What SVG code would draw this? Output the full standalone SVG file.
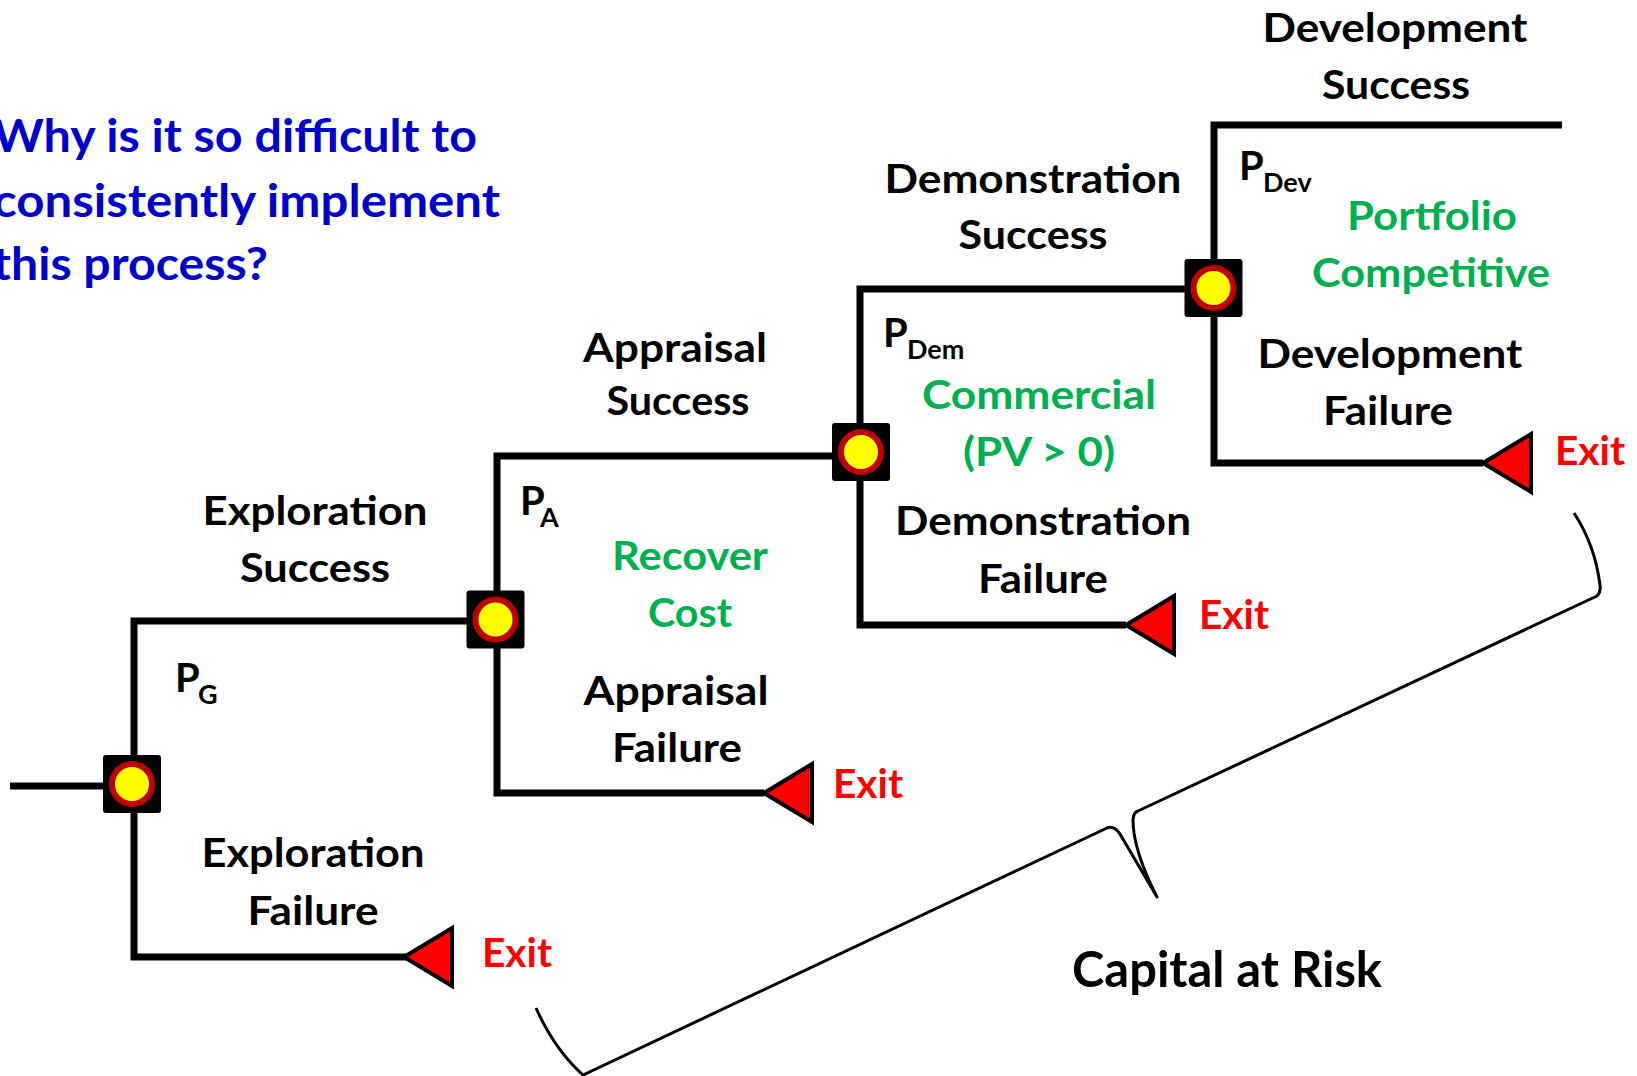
<svg xmlns="http://www.w3.org/2000/svg" width="1637" height="1076" viewBox="0 0 1637 1076">
<style>
text{font-family:Lato,"Liberation Sans",Arial,sans-serif;font-weight:700}
.lbl{font-size:41px;fill:#000;text-anchor:middle}
.grn{font-size:41px;fill:#00B050;text-anchor:middle}
.exit{font-size:41px;fill:#FF0000}
.p{font-size:40px;fill:#000}
.sub{font-size:27px;fill:#000}
.title{font-size:46px;fill:#0000CC}
.wire{fill:none;stroke:#000;stroke-width:7;stroke-linejoin:miter;stroke-linecap:butt}
.brace{fill:none;stroke:#000;stroke-width:3;stroke-linejoin:round}
.box{fill:#000}
.dot{fill:#FFFF00;stroke:#C00000;stroke-width:6}
.tri{fill:#FF0000;stroke:#000;stroke-width:4;stroke-linejoin:miter}
</style>
<defs>
<g id="dnode"><rect class="box" x="-29" y="-29" width="58" height="58" rx="3"/><circle class="dot" r="20"/></g>
<polygon id="exitTri" class="tri" points="0,0 48,-29 48,29"/>
</defs>
<rect width="1637" height="1076" fill="#fff"/>

<g id="title">
<text class="title" x="-7" y="152" textLength="484" lengthAdjust="spacingAndGlyphs">Why is it so difficult to</text>
<text class="title" x="-7" y="217" textLength="507" lengthAdjust="spacingAndGlyphs">consistently implement</text>
<text class="title" x="-7" y="280" textLength="275" lengthAdjust="spacingAndGlyphs">this process?</text>
</g>

<g id="connectors">
<path class="wire" d="M10 786 H104"/>
<path class="wire" d="M495 621 H134 V957 H406"/>
<path class="wire" d="M861 456 H497 V793 H764"/>
<path class="wire" d="M1213 289 H860 V625 H1126"/>
<path class="wire" d="M1562 125 H1214 V463 H1483"/>
<path class="brace" d="M536 1008 C548 1035 563 1057 583 1075 L1107 828 Q1114 825 1120 834 L1157 897 Q1133 850 1133 820 Q1133 813 1138 811 L1597 596 Q1601 592 1600 585 Q1595 545 1574 513"/>
</g>

<g id="node-exploration"><use href="#dnode" x="132" y="784"/></g>
<g id="node-appraisal"><use href="#dnode" x="495.5" y="619.5"/></g>
<g id="node-demonstration"><use href="#dnode" x="861" y="452"/></g>
<g id="node-development"><use href="#dnode" x="1213.5" y="288"/></g>

<g id="exit-1"><use href="#exitTri" x="404" y="957"/><text class="exit" x="482" y="967" textLength="70" lengthAdjust="spacingAndGlyphs">Exit</text></g>
<g id="exit-2"><use href="#exitTri" x="764" y="793"/><text class="exit" x="833" y="798" textLength="70" lengthAdjust="spacingAndGlyphs">Exit</text></g>
<g id="exit-3"><use href="#exitTri" x="1126" y="625"/><text class="exit" x="1199" y="629" textLength="70" lengthAdjust="spacingAndGlyphs">Exit</text></g>
<g id="exit-4"><use href="#exitTri" x="1483" y="463"/><text class="exit" x="1555" y="465" textLength="70" lengthAdjust="spacingAndGlyphs">Exit</text></g>

<g id="labels-exploration">
<text class="lbl" x="315" y="525" textLength="225" lengthAdjust="spacingAndGlyphs">Exploration</text>
<text class="lbl" x="315" y="582" textLength="150" lengthAdjust="spacingAndGlyphs">Success</text>
<text class="lbl" x="313" y="867" textLength="223" lengthAdjust="spacingAndGlyphs">Exploration</text>
<text class="lbl" x="313" y="925" textLength="131" lengthAdjust="spacingAndGlyphs">Failure</text>
<text class="p" x="175" y="692">P<tspan class="sub" x="198" y="704">G</tspan></text>
</g>

<g id="labels-appraisal">
<text class="lbl" x="675" y="362" textLength="184" lengthAdjust="spacingAndGlyphs">Appraisal</text>
<text class="lbl" x="678" y="415" textLength="143" lengthAdjust="spacingAndGlyphs">Success</text>
<text class="lbl" x="676" y="705" textLength="185" lengthAdjust="spacingAndGlyphs">Appraisal</text>
<text class="lbl" x="677" y="762" textLength="130" lengthAdjust="spacingAndGlyphs">Failure</text>
<text class="grn" x="690" y="570" textLength="156" lengthAdjust="spacingAndGlyphs">Recover</text>
<text class="grn" x="690" y="627" textLength="84" lengthAdjust="spacingAndGlyphs">Cost</text>
<text class="p" x="520" y="515">P<tspan class="sub" x="540" y="527">A</tspan></text>
</g>

<g id="labels-demonstration">
<text class="lbl" x="1033" y="193" textLength="297" lengthAdjust="spacingAndGlyphs">Demonstration</text>
<text class="lbl" x="1033" y="249" textLength="149" lengthAdjust="spacingAndGlyphs">Success</text>
<text class="lbl" x="1043" y="535" textLength="296" lengthAdjust="spacingAndGlyphs">Demonstration</text>
<text class="lbl" x="1043" y="593" textLength="130" lengthAdjust="spacingAndGlyphs">Failure</text>
<text class="grn" x="1039" y="409" textLength="234" lengthAdjust="spacingAndGlyphs">Commercial</text>
<text class="grn" x="1039" y="466" textLength="152" lengthAdjust="spacingAndGlyphs">(PV &gt; 0)</text>
<text class="p" x="883" y="347">P<tspan class="sub" x="907" y="359">Dem</tspan></text>
</g>

<g id="labels-development">
<text class="lbl" x="1395" y="42" textLength="265" lengthAdjust="spacingAndGlyphs">Development</text>
<text class="lbl" x="1396" y="99" textLength="148" lengthAdjust="spacingAndGlyphs">Success</text>
<text class="lbl" x="1390" y="368" textLength="265" lengthAdjust="spacingAndGlyphs">Development</text>
<text class="lbl" x="1388" y="425" textLength="130" lengthAdjust="spacingAndGlyphs">Failure</text>
<text class="grn" x="1432" y="230" textLength="170" lengthAdjust="spacingAndGlyphs">Portfolio</text>
<text class="grn" x="1431" y="287" textLength="238" lengthAdjust="spacingAndGlyphs">Competitive</text>
<text class="p" x="1239" y="180">P<tspan class="sub" x="1263" y="192">Dev</tspan></text>
</g>

<g id="capital-at-risk">
<text x="1072" y="987" font-size="49" fill="#000" textLength="310" lengthAdjust="spacingAndGlyphs">Capital at Risk</text>
</g>
</svg>
